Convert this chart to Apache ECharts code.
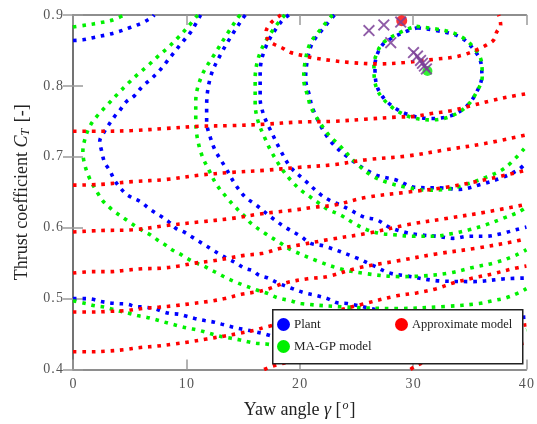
<!DOCTYPE html>
<html><head><meta charset="utf-8">
<script src="https://cdn.jsdelivr.net/npm/echarts@6/dist/echarts.min.js"></script>
<style>html,body{margin:0;padding:0;background:#fff}#c{width:537px;height:424px}</style>
</head><body><div id="c"></div>
<script>
// ---- Plant (blue) contour levels, [yaw, Ct] ----
var plantL1 = [[30.39,0.882],[32.75,0.876],[34.24,0.868],[35.37,0.851],[35.98,0.833],[36.07,0.814],[35.63,0.792],[34.76,0.772],[33.36,0.758],[31.62,0.754],[29.87,0.758],[28.12,0.772],[26.90,0.796],[26.64,0.828],[26.90,0.847],[27.51,0.861],[29.26,0.876],[30.39,0.882]];
var plantL2 = [[23.06,0.900],[22.18,0.883],[21.14,0.861],[20.70,0.838],[20.52,0.810],[20.87,0.786],[21.14,0.768],[22.53,0.726],[24.28,0.699],[26.64,0.675],[28.56,0.667],[30.13,0.657],[32.66,0.656],[34.06,0.654],[35.98,0.661],[37.90,0.671],[39.30,0.682],[40,0.692]];
var plantL3 = [[19.04,0.900],[18.34,0.890],[17.03,0.856],[16.51,0.819],[16.51,0.782],[16.59,0.772],[16.94,0.754],[17.47,0.736],[18.34,0.708],[19.21,0.685],[20.44,0.667],[21.83,0.647],[22.71,0.638],[23.58,0.632],[24.45,0.625],[25.68,0.615],[26.81,0.611],[27.86,0.601],[29.17,0.594],[30.57,0.590],[32.05,0.588],[33.54,0.585],[34.93,0.588],[36.42,0.588],[37.90,0.592],[39.04,0.597],[40,0.601]];
var plantL4 = [[15.20,0.900],[15.02,0.896],[14.15,0.875],[13.01,0.844],[12.14,0.813],[11.79,0.772],[11.79,0.750],[12.14,0.726],[12.58,0.708],[13.45,0.685],[14.32,0.661],[15.20,0.643],[16.07,0.633],[17.47,0.615],[18.69,0.601],[20.09,0.588],[20.96,0.578],[22.18,0.574],[25.07,0.557],[26.55,0.546],[27.95,0.536],[29.43,0.532],[32.31,0.525],[35.28,0.524],[38.17,0.528],[40,0.529]];
var plantL5 = [[11.26,0.900],[10.39,0.876],[9.61,0.861],[8.91,0.847],[8.21,0.833],[7.60,0.821],[6.90,0.810],[6.11,0.799],[5.41,0.786],[4.72,0.778],[4.10,0.765],[3.67,0.757],[3.06,0.743],[2.79,0.736],[2.36,0.722],[2.53,0.708],[2.79,0.692],[3.23,0.681],[3.67,0.667],[4.28,0.654],[4.80,0.646],[6.03,0.636],[6.55,0.629],[7.16,0.622],[7.86,0.615],[8.47,0.608],[9.08,0.599],[9.78,0.594],[10.39,0.588],[11.09,0.581],[11.70,0.575],[12.40,0.568],[13.10,0.561],[13.71,0.556],[14.41,0.550],[15.11,0.543],[15.90,0.539],[16.42,0.533],[17.21,0.529],[18.08,0.522],[19.21,0.515],[20.44,0.508],[21.57,0.504],[22.45,0.500],[23.32,0.494],[24.19,0.493],[28.56,0.479],[32.93,0.474],[37.29,0.472],[40,0.474]];
var plantL6a = [[0,0.864],[0.87,0.865],[1.75,0.868],[2.97,0.872],[3.93,0.876],[4.98,0.882],[6.11,0.889],[6.99,0.897],[7.16,0.900]];
var plantL6b = [[0,0.500],[1.05,0.500],[1.75,0.499],[2.45,0.496],[3.23,0.494],[3.93,0.493],[4.80,0.492],[5.50,0.489],[6.29,0.488],[7.16,0.486],[7.86,0.482],[8.56,0.479],[9.34,0.478],[10.04,0.475],[10.74,0.472],[11.62,0.469],[12.40,0.467],[13.10,0.464],[13.80,0.461],[14.59,0.458],[15.28,0.456],[16.16,0.453],[16.94,0.450],[19.83,0.436],[24.19,0.422],[26.81,0.415],[28.82,0.413],[30.31,0.411],[32.05,0.411],[34.41,0.411],[36.68,0.411],[40,0.413]];

// ---- MA-GP model (green) contour levels ----
var gpL1 = [[30.30,0.884],[32.80,0.878],[34.30,0.869],[35.45,0.852],[36.05,0.833],[36.10,0.813],[35.60,0.791],[34.70,0.771],[33.30,0.757],[31.55,0.752],[29.80,0.756],[28.05,0.771],[26.80,0.796],[26.55,0.828],[26.85,0.848],[27.45,0.862],[29.20,0.878],[30.30,0.884]];
var gpL2 = [[22.88,0.900],[22.01,0.883],[20.96,0.861],[20.52,0.838],[20.35,0.810],[20.70,0.786],[21.05,0.768],[22.45,0.733],[23.58,0.715],[24.80,0.694],[26.20,0.675],[27.69,0.664],[29.43,0.657],[31.18,0.653],[32.93,0.654],[34.67,0.661],[36.42,0.671],[38.17,0.685],[40,0.715]];
var gpL3 = [[18.69,0.900],[17.64,0.879],[16.51,0.847],[16.07,0.810],[16.07,0.775],[16.33,0.750],[16.94,0.726],[17.47,0.708],[18.34,0.685],[19.21,0.667],[20.09,0.653],[20.96,0.643],[21.83,0.633],[22.45,0.626],[23.58,0.618],[24.80,0.606],[25.94,0.597],[27.07,0.592],[28.30,0.590],[30.04,0.588],[31.79,0.588],[33.54,0.592],[34.93,0.597],[36.42,0.604],[37.90,0.613],[39.30,0.622],[40,0.629]];
var gpL4 = [[14.76,0.900],[14.59,0.897],[13.71,0.876],[12.58,0.847],[11.35,0.814],[10.83,0.778],[10.83,0.754],[10.92,0.731],[11.35,0.703],[11.97,0.682],[12.66,0.661],[13.54,0.643],[14.32,0.629],[15.20,0.615],[15.72,0.606],[16.94,0.592],[18.34,0.578],[19.21,0.569],[21.57,0.553],[23.58,0.542],[25.94,0.535],[28.82,0.531],[30.92,0.532],[33.19,0.536],[35.28,0.544],[37.29,0.551],[39.04,0.561],[40,0.569]];
var gpL5 = [[11.00,0.900],[10.13,0.883],[9.26,0.868],[8.38,0.854],[7.51,0.842],[6.64,0.829],[5.76,0.817],[4.89,0.804],[4.02,0.790],[3.14,0.775],[2.10,0.757],[1.48,0.743],[1.05,0.725],[0.87,0.707],[1.05,0.688],[1.48,0.669],[2.10,0.651],[2.62,0.638],[3.49,0.625],[4.80,0.610],[6.11,0.596],[6.81,0.590],[7.42,0.583],[8.12,0.576],[8.73,0.569],[9.43,0.563],[10.04,0.557],[10.74,0.551],[11.53,0.546],[12.23,0.540],[12.84,0.535],[13.54,0.529],[14.24,0.524],[15.02,0.519],[15.72,0.515],[16.42,0.511],[17.21,0.507],[18.08,0.501],[19.21,0.497],[20.09,0.493],[24.19,0.488],[28.56,0.486],[32.93,0.489],[35.81,0.493],[37.03,0.497],[38.17,0.501],[39.30,0.508],[40,0.514]];
var gpL6a = [[0,0.883],[1.22,0.886],[2.36,0.889],[3.49,0.893],[4.54,0.900]];
var gpL6b = [[0,0.497],[1.14,0.493],[1.92,0.490],[2.79,0.488],[3.49,0.485],[4.19,0.482],[4.98,0.479],[5.68,0.476],[6.38,0.474],[7.16,0.471],[8.03,0.467],[8.73,0.464],[9.43,0.461],[10.22,0.458],[10.92,0.456],[11.62,0.453],[12.49,0.449],[13.28,0.446],[13.97,0.444],[14.67,0.442],[15.46,0.439],[16.16,0.437],[17.03,0.436],[21.57,0.426],[26.81,0.424],[32.05,0.431],[37.29,0.444],[40,0.456]];

// ---- Approximate model (red) contour levels ----
var apxL0 = [[18.34,0.900],[17.47,0.889],[17.03,0.876],[17.21,0.865],[17.82,0.858],[18.52,0.853],[19.21,0.847],[20.52,0.842],[21.40,0.839],[22.71,0.836],[24.45,0.833],[26.90,0.831],[29.26,0.833],[32.14,0.838],[33.36,0.840],[34.50,0.844],[35.63,0.851],[36.51,0.858],[37.12,0.865],[37.38,0.876],[37.73,0.886],[37.55,0.900]];
var apxL1 = [[0,0.736],[2.36,0.736],[5.24,0.737],[8.21,0.740],[11.09,0.743],[13.97,0.744],[16.94,0.746],[19.91,0.749],[22.88,0.750],[25.76,0.753],[28.56,0.756],[30.13,0.757],[31.62,0.761],[33.36,0.765],[35.11,0.772],[36.86,0.779],[38.60,0.785],[40,0.789]];
var apxL2 = [[0,0.660],[2.36,0.661],[5.24,0.665],[8.21,0.668],[11.09,0.674],[13.97,0.678],[16.94,0.681],[19.83,0.685],[23.06,0.689],[25.94,0.696],[29.43,0.701],[32.93,0.710],[36.42,0.719],[40,0.731]];
var apxL3 = [[0,0.594],[2.36,0.596],[5.24,0.597],[8.21,0.603],[11.09,0.608],[13.97,0.613],[16.33,0.619],[17.82,0.622],[19.56,0.625],[21.31,0.629],[23.06,0.632],[25.94,0.643],[29.43,0.650],[32.93,0.657],[36.42,0.668],[40,0.681]];
var apxL4 = [[0,0.536],[1.75,0.538],[3.23,0.538],[4.63,0.540],[6.11,0.542],[7.86,0.543],[9.34,0.546],[10.74,0.550],[12.23,0.553],[13.71,0.557],[15.11,0.561],[16.77,0.564],[18.34,0.571],[20.09,0.576],[22.45,0.583],[25.94,0.592],[29.43,0.604],[32.93,0.613],[36.42,0.622],[40,0.633]];
var apxL5 = [[0,0.481],[1.75,0.481],[3.23,0.482],[4.63,0.483],[6.11,0.486],[7.60,0.488],[8.99,0.490],[10.48,0.493],[11.97,0.496],[13.36,0.500],[14.85,0.506],[16.33,0.510],[17.29,0.514],[18.69,0.522],[20.70,0.528],[22.45,0.531],[25.07,0.543],[28.56,0.553],[32.05,0.563],[35.55,0.571],[39.04,0.581],[40,0.585]];
var apxL6 = [[0,0.425],[1.57,0.425],[3.06,0.426],[4.54,0.428],[5.94,0.431],[7.42,0.433],[8.91,0.436],[10.31,0.439],[11.79,0.443],[13.28,0.447],[14.67,0.451],[16.16,0.456],[17.03,0.460],[22.01,0.478],[25.51,0.492],[28.56,0.504],[30.31,0.508],[32.05,0.514],[33.54,0.522],[35.28,0.529],[37.03,0.535],[38.78,0.542],[40,0.546]];
var apxL7 = [[16.86,0.400],[17.47,0.404],[18.34,0.408],[19.21,0.411],[20.00,0.413],[24.19,0.424],[30.31,0.442],[35.55,0.453],[40,0.463]];
var apxL8 = [[29.78,0.400],[30.13,0.404],[30.92,0.410],[31.79,0.413],[32.66,0.415],[36.42,0.426],[40,0.438]];

// ---- iterates and optima ----
var iterates = [[26.11,0.878],[27.42,0.886],[28.91,0.890],[28.03,0.861],[30.04,0.847],[30.39,0.842],[30.66,0.836],[30.83,0.832],[31.00,0.828],[31.18,0.824]];
var apxOptimum = [[29.0,0.892]];
var gpOptimum = [[31.27,0.821]];

var xTicks = [0, 10, 20, 30, 40];
var yTicks = [0.4, 0.5, 0.6, 0.7, 0.8, 0.9];

var BLUE = '#0000ff', GREEN = '#00f000', RED = '#ff0000', PURPLE = '#7b3f98';
var SERIF = '"Liberation Serif","DejaVu Serif",serif';
function spaced(s) { return String(s).split('').join('\u200A'); }

function contour(name, color, data) {
  return {
    type: 'line', name: name, data: data, showSymbol: false, symbol: 'circle',
    smooth: 0.35, clip: true, silent: true, z: 2,
    itemStyle: { color: color },
    lineStyle: { color: color, width: 3.6, type: [3.6, 5.8], cap: 'butt' }
  };
}

var series = [];
[plantL1, plantL2, plantL3, plantL4, plantL5, plantL6a, plantL6b].forEach(function (d) { series.push(contour('Plant', BLUE, d)); });
[gpL1, gpL2, gpL3, gpL4, gpL5, gpL6a, gpL6b].forEach(function (d) { series.push(contour('MA-GP model', GREEN, d)); });
[apxL0, apxL1, apxL2, apxL3, apxL4, apxL5, apxL6, apxL7, apxL8].forEach(function (d) { series.push(contour('Approximate model', RED, d)); });

series.push({
  type: 'scatter', data: iterates, z: 5, silent: true,
  symbol: 'path://M0,1.1 L1.1,0 L5,3.9 L8.9,0 L10,1.1 L6.1,5 L10,8.9 L8.9,10 L5,6.1 L1.1,10 L0,8.9 L3.9,5 Z',
  symbolSize: 12, itemStyle: { color: PURPLE, opacity: 0.85 }
});
series.push({ type: 'scatter', data: apxOptimum, z: 4, silent: true, symbol: 'circle', symbolSize: 11, itemStyle: { color: RED } });
series.push({ type: 'scatter', data: gpOptimum, z: 4, silent: true, symbol: 'circle', symbolSize: 10, itemStyle: { color: GREEN } });

var axisLineStyle = { color: '#6a6a6a', width: 1.5 };
var tickStyle = { color: '#9a9a9a', width: 1.5 };
var richTitle = {
  i: { fontFamily: SERIF, fontSize: 18, fontStyle: 'italic', color: '#222' },
  s: { fontFamily: SERIF, fontSize: 12, fontStyle: 'italic', color: '#222', padding: [0, 1, 9, 1] },
  sub: { fontFamily: SERIF, fontSize: 12, fontStyle: 'italic', color: '#222', padding: [7, 2, 0, 0] }
};

var chart = echarts.init(document.getElementById('c'), null, { renderer: 'canvas' });
chart.setOption({
  animation: false,
  backgroundColor: '#fff',
  grid: { left: 73, right: 6, top: 15, bottom: 49 },
  xAxis: [{
    type: 'value', min: xTicks[0], max: xTicks[xTicks.length - 1], interval: 10, position: 'bottom',
    axisLine: { show: true, lineStyle: axisLineStyle },
    axisTick: { show: true, inside: true, length: 10, lineStyle: tickStyle },
    splitLine: { show: false },
    axisLabel: { fontFamily: SERIF, fontSize: 14, color: '#555', margin: 8, formatter: function (v) { return spaced(v); } },
    name: 'Yaw angle {i|γ} [{s|o}]', nameLocation: 'middle', nameGap: 30,
    nameTextStyle: { fontFamily: SERIF, fontSize: 18, color: '#222', rich: richTitle }
  }, {
    type: 'value', min: 0, max: 40, interval: 10, position: 'top',
    axisLine: { show: true, lineStyle: axisLineStyle },
    axisTick: { show: true, inside: true, length: 10, lineStyle: tickStyle },
    axisLabel: { show: false }, splitLine: { show: false }
  }],
  yAxis: [{
    type: 'value', min: yTicks[0], max: yTicks[yTicks.length - 1], interval: 0.1, position: 'left',
    axisLine: { show: true, lineStyle: axisLineStyle },
    axisTick: { show: true, inside: true, length: 10, lineStyle: tickStyle },
    splitLine: { show: false },
    axisLabel: { fontFamily: SERIF, fontSize: 14, color: '#555', margin: 10, formatter: function (v) { return spaced(v.toFixed(1)); } },
    name: 'Thrust coefficient {i|C}{sub|T} [-]', nameLocation: 'middle', nameGap: 38, nameRotate: 90,
    nameTextStyle: { fontFamily: SERIF, fontSize: 18, color: '#222', rich: richTitle }
  }, {
    type: 'value', min: 0.4, max: 0.9, interval: 0.1, position: 'right',
    axisLine: { show: true, lineStyle: axisLineStyle },
    axisTick: { show: true, inside: true, length: 10, lineStyle: tickStyle },
    axisLabel: { show: false }, splitLine: { show: false }
  }],
  legend: [{
    data: ['Plant', 'MA-GP model'], orient: 'vertical', left: 277, top: 318, padding: 0,
    itemWidth: 13, itemHeight: 13, itemGap: 9, icon: 'circle', z: 30, selectedMode: false,
    textStyle: { fontFamily: SERIF, fontSize: 13, color: '#222', padding: [0, 0, 0, -1] }
  }, {
    data: ['Approximate model'], orient: 'vertical', left: 395, top: 318, padding: 0,
    itemWidth: 13, itemHeight: 13, itemGap: 9, icon: 'circle', z: 30, selectedMode: false,
    textStyle: { fontFamily: SERIF, fontSize: 12.5, color: '#222', padding: [0, 0, 0, -1] }
  }],
  graphic: [{
    type: 'rect', left: 272, top: 309, z: 20, silent: true,
    shape: { width: 250, height: 54 },
    style: { fill: '#fff', stroke: '#222', lineWidth: 1.5 }
  }],
  series: series
});
</script></body></html>
